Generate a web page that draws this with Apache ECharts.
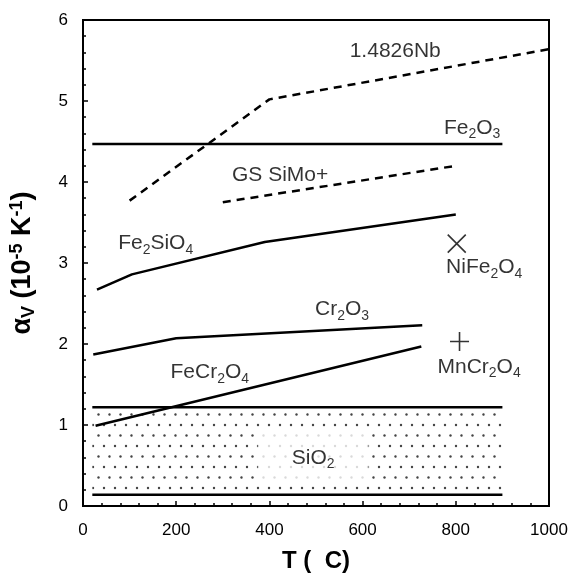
<!DOCTYPE html>
<html><head><meta charset="utf-8">
<script src="https://cdn.jsdelivr.net/npm/echarts@6/dist/echarts.min.js"></script>
<style>html,body{margin:0;padding:0;background:#fff}#c{width:571px;height:576px}</style>
</head><body><div id="c"></div>
<script>
// ---- data ----
const xTicks = [0, 200, 400, 600, 800, 1000];
const yTicks = [0, 1, 2, 3, 4, 5, 6];
const nbX = [100, 400, 1000];            const nbY = [3.77, 5.02, 5.64];
const fe2o3X = [20, 900];                const fe2o3Y = [4.47, 4.47];
const gsX = [300, 800];                  const gsY = [3.75, 4.20];
const fe2sio4X = [30, 105, 390, 800];    const fe2sio4Y = [2.67, 2.86, 3.26, 3.60];
const cr2o3X = [22, 200, 728];           const cr2o3Y = [1.87, 2.07, 2.23];
const fecr2o4X = [27, 726];              const fecr2o4Y = [0.99, 1.97];
const sio2X = [20, 900];                 const sio2Top = [1.22, 1.22]; const sio2Bottom = [0.14, 0.14];
const nife2o4Pt = [802, 3.24];
const mncr2o4Pt = [808, 2.03];
const labelTexts = ['{m|1.4826Nb}', '{m|Fe}{s|2}{m|O}{s|3}', '{m|GS SiMo+}', '{m|Fe}{s|2}{m|SiO}{s|4}', '{m|NiFe}{s|2}{m|O}{s|4}', '{m|Cr}{s|2}{m|O}{s|3}', '{m|MnCr}{s|2}{m|O}{s|4}', '{m|FeCr}{s|2}{m|O}{s|4}', '{m|SiO}{s|2}'];
const labelX = [670, 835, 423, 156, 861, 556, 850, 272, 494];
const labelY = [5.60, 4.65, 4.07, 3.22, 2.93, 2.41, 1.70, 1.63, 0.59];

const zip = (xs, ys) => xs.map((x, i) => [x, ys[i]]);

// dotted fill pattern for SiO2 band
const pc = document.createElement('canvas');
pc.width = 22; pc.height = 21;
const g = pc.getContext('2d');
g.fillStyle = '#444';
[[5, 5], [16, 5], [10.5, 15.5], [21.5, 15.5], [-0.5, 15.5]].forEach(([x, y]) => { g.beginPath(); g.arc(x, y, 1.2, 0, Math.PI * 2); g.fill(); });

const FONT = 'Liberation Sans, Arial, sans-serif';
const lineStyleSolid = { color: '#000', width: 2.5, type: 'solid' };
const lineStyleDash = { color: '#000', width: 2.5, type: [8, 6] };
function lineSeries(name, xs, ys, ls) {
  return { name, type: 'line', data: zip(xs, ys), symbol: 'none', lineStyle: ls, z: 3, silent: true, animation: false };
}

const chart = echarts.init(document.getElementById('c'), null, { renderer: 'canvas' });
chart.setOption({
  animation: false,
  backgroundColor: '#fff',
  textStyle: { fontFamily: FONT },
  grid: { left: 83, right: 22, top: 20, bottom: 70, outerBoundsMode: 'none', containLabel: false, show: true, borderColor: '#000', borderWidth: 2, backgroundColor: 'transparent' },
  xAxis: {
    type: 'value', min: xTicks[0], max: xTicks[xTicks.length - 1], interval: 200,
    name: 'T (  C)', nameLocation: 'middle', nameGap: 43,
    nameTextStyle: { fontSize: 24, fontWeight: 'bold', color: '#000', fontFamily: FONT },
    axisLine: { show: true, lineStyle: { color: '#000', width: 2 } },
    axisTick: { show: true, inside: true, length: 5, lineStyle: { color: '#000', width: 1.5 } },
    minorTick: { show: true, splitNumber: 5, length: 3, lineStyle: { color: '#000', width: 1.5 } },
    splitLine: { show: false },
    axisLabel: { fontSize: 17, color: '#000', margin: 16, fontFamily: FONT, formatter: v => xTicks.includes(v) ? String(v) : '' }
  },
  yAxis: {
    type: 'value', min: yTicks[0], max: yTicks[yTicks.length - 1], interval: 1,
    name: '{a|α}{v|V}{a| (10}{p|-5}{a| K}{p|-1}{a|)}', nameLocation: 'middle', nameGap: 45, nameRotate: 90,
    nameTextStyle: {
      color: '#000', fontFamily: FONT, fontWeight: 'bold', fontSize: 27,
      rich: {
        a: { fontSize: 27, fontWeight: 'bold', fontFamily: FONT, color: '#000', lineHeight: 30 },
        v: { fontSize: 18, fontWeight: 'bold', fontFamily: FONT, color: '#000', lineHeight: 10, verticalAlign: 'bottom' },
        p: { fontSize: 18, fontWeight: 'bold', fontFamily: FONT, color: '#000', lineHeight: 10, verticalAlign: 'top' }
      }
    },
    axisLine: { show: true, lineStyle: { color: '#000', width: 2 } },
    axisTick: { show: true, inside: true, length: 5, lineStyle: { color: '#000', width: 1.5 } },
    minorTick: { show: true, splitNumber: 5, length: 3, lineStyle: { color: '#000', width: 1.5 } },
    splitLine: { show: false },
    axisLabel: { fontSize: 17, color: '#000', margin: 15, fontFamily: FONT, formatter: v => yTicks.includes(v) ? String(v) : '' }
  },
  series: [
    {
      name: 'SiO2 band', type: 'line', data: zip(sio2X, sio2Bottom), symbol: 'none', lineStyle: lineStyleSolid, z: 3, silent: true,
      markArea: {
        silent: true,
        itemStyle: { color: { image: pc, repeat: 'repeat' }, borderWidth: 0 },
        data: [[{ coord: [sio2X[0], sio2Bottom[0]] }, { coord: [sio2X[1], sio2Top[0]] }]]
      }
    },
    lineSeries('SiO2 top', sio2X, sio2Top, lineStyleSolid),
    lineSeries('1.4826Nb', nbX, nbY, lineStyleDash),
    lineSeries('Fe2O3', fe2o3X, fe2o3Y, lineStyleSolid),
    lineSeries('GS SiMo+', gsX, gsY, lineStyleDash),
    lineSeries('Fe2SiO4', fe2sio4X, fe2sio4Y, lineStyleSolid),
    lineSeries('Cr2O3', cr2o3X, cr2o3Y, lineStyleSolid),
    lineSeries('FeCr2O4', fecr2o4X, fecr2o4Y, lineStyleSolid),
    {
      name: 'NiFe2O4', type: 'scatter', data: [nife2o4Pt], symbol: 'path://M0,0L10,10M10,0L0,10', symbolSize: 18,
      itemStyle: { color: 'transparent', borderColor: '#000', borderWidth: 1.6 }, z: 4, silent: true
    },
    {
      name: 'MnCr2O4', type: 'scatter', data: [mncr2o4Pt], symbol: 'path://M5,0L5,10M0,5L10,5', symbolSize: 19,
      itemStyle: { color: 'transparent', borderColor: '#000', borderWidth: 1.6 }, z: 4, silent: true
    },
    {
      name: 'labels', type: 'scatter', symbolSize: 0, silent: true, z: 5,
      data: labelTexts.map((t, i) => ({
        value: [labelX[i], labelY[i]],
        label: i === 8 ? { backgroundColor: '#fff', padding: [16, 34, 14, 34] } : {}
      })),
      label: {
        show: true, position: 'inside', color: '#000', fontFamily: FONT, fontSize: 21,
        formatter: p => labelTexts[p.dataIndex],
        rich: {
          m: { fontSize: 21, fontFamily: FONT, color: '#000', lineHeight: 24, verticalAlign: 'top' },
          s: { fontSize: 14, fontFamily: FONT, color: '#000', lineHeight: 14, verticalAlign: 'bottom' }
        }
      }
    }
  ]
});
</script>
</body></html>
